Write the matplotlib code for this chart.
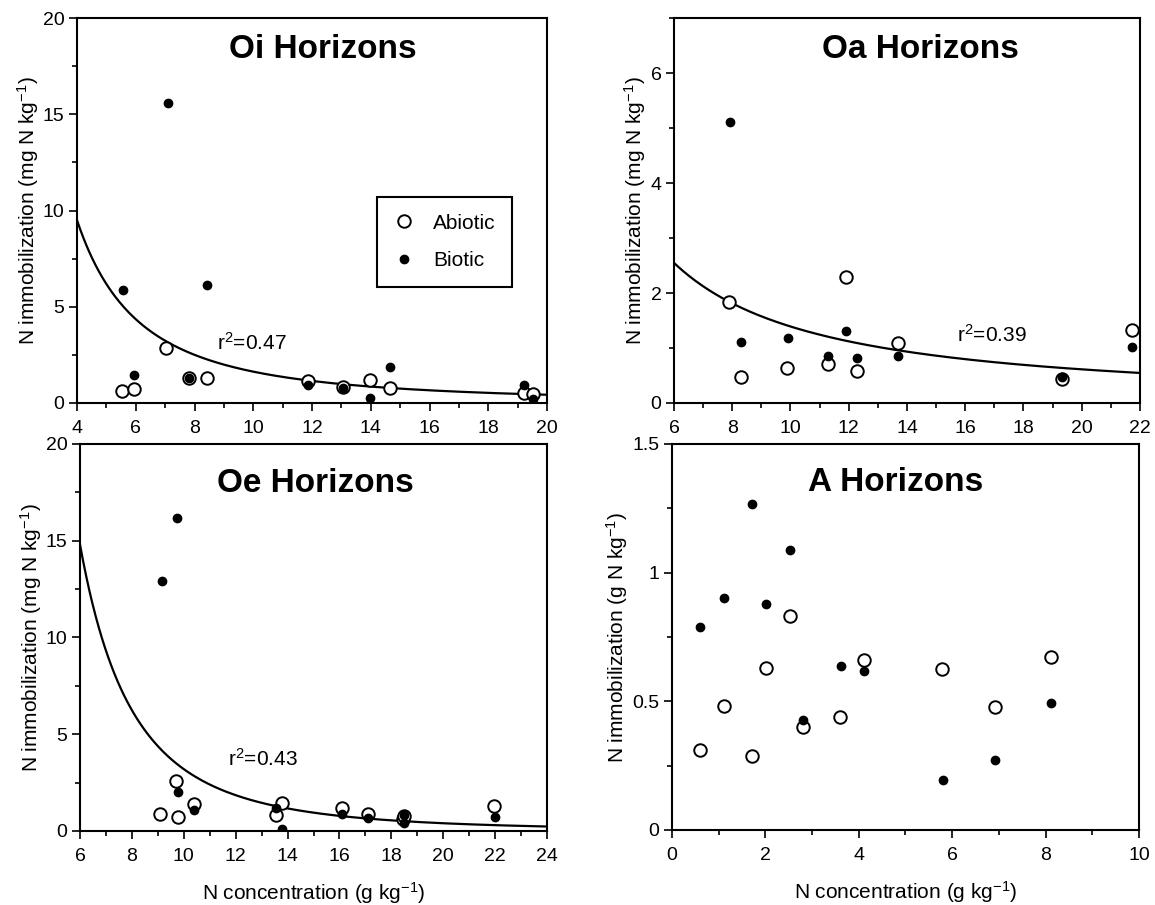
import numpy as np
import matplotlib
matplotlib.use("Agg")
import matplotlib.pyplot as plt
from matplotlib.ticker import MultipleLocator

plt.rcParams['font.family'] = ['Liberation Sans', 'DejaVu Sans']
plt.rcParams['mathtext.fontset'] = 'custom'
plt.rcParams['mathtext.rm'] = 'Liberation Sans'
plt.rcParams['mathtext.default'] = 'regular'

# Oi horizons
oi_abi_x = [5.53, 5.95, 7.04, 7.82, 8.42, 11.88, 13.07, 13.97, 14.65, 19.2, 19.52]
oi_abi_y = [0.61, 0.73, 2.86, 1.30, 1.30, 1.13, 0.81, 1.18, 0.78, 0.52, 0.47]
oi_bio_x = [5.55, 5.95, 7.08, 8.42, 7.82, 11.88, 13.07, 13.97, 14.65, 19.22, 19.52]
oi_bio_y = [5.85, 1.44, 15.58, 6.11, 1.30, 0.92, 0.78, 0.26, 1.87, 0.95, 0.23]
oi_fit = (136.7, -1.924)

# Oa horizons
oa_abi_x = [7.89, 8.29, 9.89, 11.29, 11.9, 12.29, 13.70, 19.31, 21.72]
oa_abi_y = [1.83, 0.48, 0.635, 0.71, 2.30, 0.575, 1.09, 0.44, 1.32]
oa_bio_x = [7.91, 8.29, 9.92, 11.29, 11.9, 12.29, 13.70, 19.31, 21.72]
oa_bio_y = [5.11, 1.10, 1.19, 0.86, 1.30, 0.82, 0.85, 0.48, 1.02]
oa_fit = (21.3, -1.185)

# Oe horizons
oe_abi_x = [9.08, 9.68, 9.79, 10.39, 13.57, 13.79, 16.08, 17.1, 18.45, 18.48, 21.96]
oe_abi_y = [0.86, 2.59, 0.72, 1.41, 0.85, 1.45, 1.21, 0.86, 0.60, 0.75, 1.28]
oe_bio_x = [9.14, 9.72, 9.79, 10.39, 13.57, 13.79, 16.1, 17.1, 18.48, 18.48, 21.99]
oe_bio_y = [12.92, 16.2, 2.02, 1.07, 1.21, 0.12, 0.86, 0.69, 0.85, 0.41, 0.72]
oe_fit = (3195.0, -3.0)

# A horizons
a_abi_x = [0.59, 1.11, 1.71, 2.01, 2.52, 2.81, 3.59, 4.11, 5.79, 6.91, 8.11]
a_abi_y = [0.309, 0.48, 0.288, 0.629, 0.83, 0.40, 0.438, 0.659, 0.626, 0.476, 0.674]
a_bio_x = [0.61, 1.11, 1.72, 2.01, 2.52, 2.81, 3.61, 4.11, 5.81, 6.91, 8.11]
a_bio_y = [0.79, 0.90, 1.268, 0.879, 1.089, 0.428, 0.638, 0.616, 0.194, 0.272, 0.493]

fig = plt.figure(figsize=(11.55, 9.05), dpi=100)
ax_oi = fig.add_axes([0.0667, 0.5547, 0.4069, 0.4254])
ax_oa = fig.add_axes([0.5835, 0.5547, 0.4035, 0.4254])
ax_oe = fig.add_axes([0.0693, 0.0818, 0.4043, 0.4276])
ax_a = fig.add_axes([0.5818, 0.0829, 0.4043, 0.4265])

panels = [
    (ax_oi, 'Oi Horizons', oi_abi_x, oi_abi_y, oi_bio_x, oi_bio_y, oi_fit, (4, 20), (0, 20), 2, 1, 5, 2.5,
     'r$^2$=0.47', (8.77, 3.1), (0.523, 0.917), 'N immobilization (mg N kg$^{-1}$)'),
    (ax_oa, 'Oa Horizons', oa_abi_x, oa_abi_y, oa_bio_x, oa_bio_y, oa_fit, (6, 22), (0, 7), 2, 1, 2, 1,
     'r$^2$=0.39', (15.72, 1.24), (0.528, 0.917), 'N immobilization (mg N kg$^{-1}$)'),
    (ax_oe, 'Oe Horizons', oe_abi_x, oe_abi_y, oe_bio_x, oe_bio_y, oe_fit, (6, 24), (0, 20), 2, 1, 5, 2.5,
     'r$^2$=0.43', (11.7, 3.72), (0.503, 0.899), 'N immobilization (mg N kg$^{-1}$)'),
    (ax_a, 'A Horizons', a_abi_x, a_abi_y, a_bio_x, a_bio_y, None, (0, 10), (0, 1.5), 2, 1, 0.5, 0.25,
     None, None, (0.48, 0.90), 'N immobilization (g N kg$^{-1}$)'),
]

for (ax, title, ax_x, ax_y, bx, by, fit, xl, yl, xmaj, xmin, ymaj, ymin,
     rtxt, rpos, tpos, ylab) in panels:
    ax.plot(ax_x, ax_y, 'o', ms=9, mfc='white', mec='black', mew=1.4, label='Abiotic', zorder=3)
    ax.plot(bx, by, 'o', ms=6, mfc='black', mec='black', label='Biotic', zorder=4)
    if fit is not None:
        xs = np.linspace(xl[0], xl[1], 300)
        ax.plot(xs, fit[0] * xs ** fit[1], color='black', lw=1.6, zorder=2)
    if rtxt:
        ax.text(rpos[0], rpos[1], rtxt, fontsize=15, va='center', ha='left')
    ax.text(tpos[0], tpos[1], title, transform=ax.transAxes, fontsize=24,
            fontweight='bold', ha='center', va='center')
    ax.set_xlim(*xl)
    ax.set_ylim(*yl)
    ax.xaxis.set_major_locator(MultipleLocator(xmaj))
    ax.xaxis.set_minor_locator(MultipleLocator(xmin))
    ax.yaxis.set_major_locator(MultipleLocator(ymaj))
    ax.yaxis.set_minor_locator(MultipleLocator(ymin))
    ax.tick_params(which='both', direction='out', width=1.2, labelsize=14)
    ax.tick_params(axis='x', pad=6)
    ax.tick_params(axis='y', pad=3)
    ax.tick_params(which='major', length=6)
    ax.tick_params(which='minor', length=3.5)
    for s in ax.spines.values():
        s.set_linewidth(1.5)
    ax.set_ylabel(ylab, fontsize=15, labelpad=1.5)

ax_a.set_yticks([0, 0.5, 1, 1.5])
ax_a.set_yticklabels(['0', '0.5', '1', '1.5'])

ax_oe.set_xlabel('N concentration (g kg$^{-1}$)', fontsize=15, labelpad=11)
ax_a.set_xlabel('N concentration (g kg$^{-1}$)', fontsize=15, labelpad=11)

leg = ax_oi.legend(loc='upper left', bbox_to_anchor=(0.638, 0.535), fontsize=15,
                   frameon=True, fancybox=False, edgecolor='black', framealpha=1,
                   handlelength=1.0, handletextpad=0.9, labelspacing=0.9,
                   borderpad=0.8, borderaxespad=0)
leg.get_frame().set_linewidth(1.5)

fig.savefig('out.png', dpi=100)
